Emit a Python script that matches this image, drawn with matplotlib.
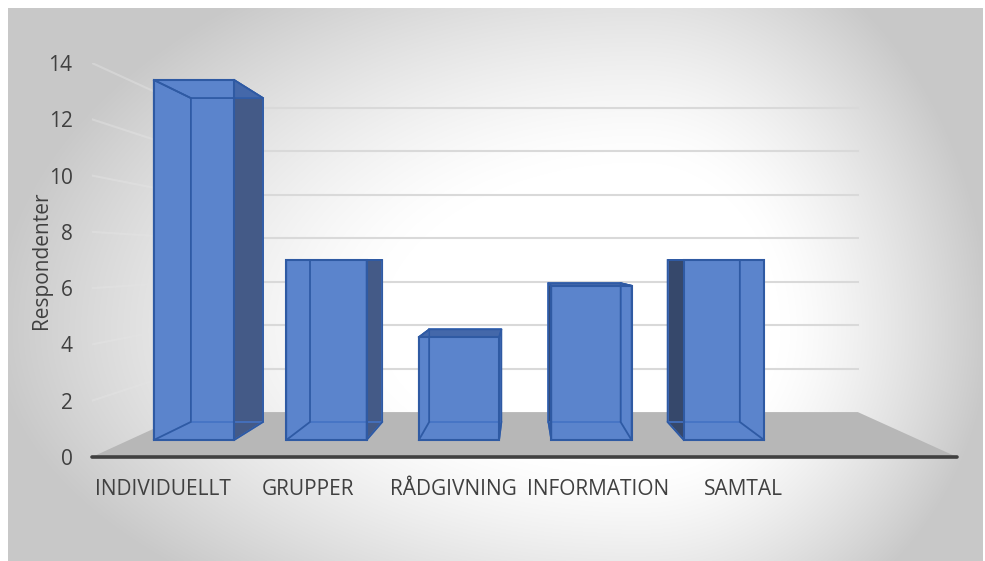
import numpy as np
import matplotlib
matplotlib.use('Agg')
import matplotlib.pyplot as plt
from matplotlib.patches import Polygon

# data
categories = ['INDIVIDUELLT', 'GRUPPER', 'RÅDGIVNING', 'INFORMATION', 'SAMTAL']
respondenter = [14, 7, 4, 6, 7]
y_ticks = [0, 2, 4, 6, 8, 10, 12, 14]

plt.rcParams['font.family'] = ['Open Sans', 'DejaVu Sans']
text_col = '#404040'

# fake 3d camera: vanishing point in data units, depth scale factors
xv, yv = 2.476, 7.0
s_front, s_bar_front, s_bar_back, s_wall = 1.0, 0.914, 0.822, 0.772
half_w = 0.303
x_lo, x_hi = -0.49, 5.476


def proj(x, y, s):
    return xv + s * (x - xv), yv + s * (y - yv)


fig = plt.figure(figsize=(9.85, 5.61), dpi=100)

# gradient background
bg = fig.add_axes([8 / 985, 0, 975 / 985, 553 / 561])
bg.set_axis_off()
W, H = 975, 553
gx, gy = np.meshgrid(np.arange(W) + 8, np.arange(H) + 8)
cx, cy = 640, 330
ax_l, ax_r, ay_u, ay_d = 650, 350, 420, 340
dx = np.where(gx < cx, (gx - cx) / ax_l, (gx - cx) / ax_r)
dy = np.where(gy < cy, (gy - cy) / ay_u, (gy - cy) / ay_d)
r = np.sqrt(dx ** 2 + dy ** 2)
t = np.clip((r - 0.4) / 0.6, 0, 1)
shade = (255 - 55 * t ** 1.3) / 255
bg.imshow(np.dstack([shade, shade, shade]), aspect='auto', interpolation='bilinear')

ax = fig.add_axes([92 / 985, 104 / 561, 865 / 985, 394 / 561])
ax.set_facecolor('none')
ax.set_xlim(x_lo, x_hi)
ax.set_ylim(0, 14)

# floor
floor = [proj(x_lo, 0, s_front), proj(x_hi, 0, s_front),
         proj(x_hi, 0, s_wall), proj(x_lo, 0, s_wall)]
ax.add_patch(Polygon(floor, closed=True, facecolor='#b7b7b7', edgecolor='none', zorder=1))

# gridlines on back wall and left side wall
for v in y_ticks[1:]:
    p0 = proj(x_lo, v, s_wall)
    p1 = proj(x_hi, v, s_wall)
    ax.plot([p0[0], p1[0]], [p0[1], p1[1]], color='#d9d9d9', lw=1.5, zorder=0.5)
    q0 = proj(x_lo, v, s_front)
    ax.plot([q0[0], p0[0]], [q0[1], p0[1]], color='#e4e4e4', lw=1.5, alpha=0.45, zorder=0.5)

# bars
for i, val in enumerate(respondenter):
    xl, xr = i - half_w, i + half_w
    f = [proj(xl, 0, s_bar_front), proj(xr, 0, s_bar_front),
         proj(xr, val, s_bar_front), proj(xl, val, s_bar_front)]
    b = [proj(xl, 0, s_bar_back), proj(xr, 0, s_bar_back),
         proj(xr, val, s_bar_back), proj(xl, val, s_bar_back)]
    left_side = [f[0], b[0], b[3], f[3]]
    right_side = [f[1], b[1], b[2], f[2]]
    top = [f[3], f[2], b[2], b[3]]
    ax.add_patch(Polygon(b, closed=True, facecolor='#5b84cc', edgecolor='none', zorder=2))
    ax.add_patch(Polygon(left_side, closed=True, facecolor='#36486b', edgecolor='none', zorder=2))
    ax.add_patch(Polygon(right_side, closed=True, facecolor='#445a87', edgecolor='none', zorder=2))
    ax.add_patch(Polygon(top, closed=True, facecolor='#4468aa', edgecolor='none', zorder=2))
    ax.add_patch(Polygon(f, closed=True, facecolor='#5b84cc', edgecolor='none', zorder=3))
    # inner edges seen through the glass
    ax.add_patch(Polygon(b, closed=True, facecolor='none', edgecolor='#4473c4', lw=1.2, zorder=4))
    for k in range(4):
        ax.plot([f[k][0], b[k][0]], [f[k][1], b[k][1]], color='#4473c4', lw=1.2, zorder=4)
    # outline
    for face in (left_side, right_side, top):
        ax.add_patch(Polygon(face, closed=True, facecolor='none', edgecolor='#2f5aa3', lw=1.2, zorder=5))
    ax.add_patch(Polygon(f, closed=True, facecolor='none', edgecolor='#2f5aa3', lw=1.5, zorder=5))

for sp in ['top', 'right', 'left']:
    ax.spines[sp].set_visible(False)
ax.spines['bottom'].set_color('#404040')
ax.spines['bottom'].set_linewidth(2.6)
ax.spines['bottom'].set_capstyle('round')
ax.spines['bottom'].set_zorder(6)

ax.set_xticks(range(len(categories)))
ax.set_xticklabels(categories)
ax.set_yticks(y_ticks)
ax.tick_params(axis='both', length=0, labelsize=15, colors=text_col)
ax.tick_params(axis='y', pad=14)
ax.tick_params(axis='x', pad=16)
ax.set_ylabel('Respondenter', fontsize=15, color=text_col)
ax.yaxis.set_label_coords(-0.046, 0.5)

fig.savefig('out.png', dpi=100)
